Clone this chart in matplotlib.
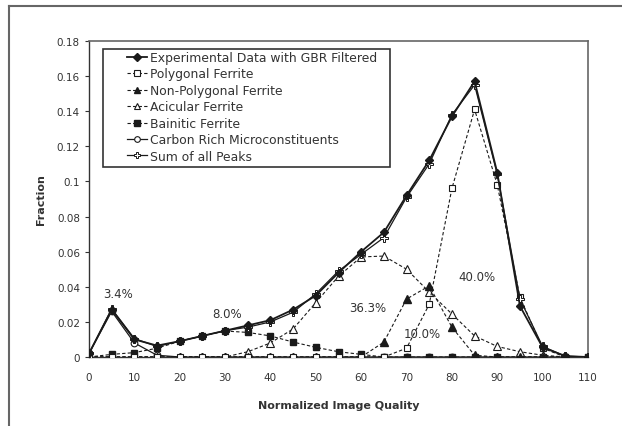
import matplotlib
matplotlib.use("Agg")
import matplotlib.pyplot as plt
from matplotlib.lines import Line2D
from matplotlib.patches import Rectangle

plt.rcParams['font.family'] = ['DejaVu Sans']

# Normalized image quality bins
iq = [0, 5, 10, 15, 20, 25, 30, 35, 40, 45, 50, 55, 60, 65, 70, 75, 80, 85, 90, 95, 100, 105, 110]

experimental = [0.002, 0.027, 0.010, 0.0065, 0.009, 0.012, 0.015, 0.018, 0.021, 0.027, 0.035, 0.048,
                0.060, 0.071, 0.092, 0.112, 0.137, 0.157, 0.105, 0.029, 0.0055, 0.0005, 0.0]
polygonal = [0.0, 0.0, 0.0, 0.0, 0.0, 0.0, 0.0, 0.0, 0.0, 0.0, 0.0, 0.0,
             0.0, 0.0, 0.005, 0.030, 0.096, 0.141, 0.098, 0.034, 0.005, 0.0, 0.0]
non_polygonal = [0.0, 0.0, 0.0, 0.0, 0.0, 0.0, 0.0, 0.0, 0.0, 0.0, 0.0, 0.0,
                 0.0, 0.0085, 0.033, 0.0405, 0.017, 0.001, 0.0, 0.0, 0.0, 0.0, 0.0]
acicular = [0.0, 0.0, 0.0, 0.0, 0.0, 0.0, 0.0, 0.003, 0.008, 0.016, 0.031, 0.046,
            0.057, 0.0575, 0.050, 0.037, 0.0245, 0.012, 0.006, 0.003, 0.001, 0.0, 0.0]
bainitic = [0.0, 0.0015, 0.0025, 0.005, 0.009, 0.012, 0.0148, 0.014, 0.012, 0.0085, 0.0055, 0.003,
            0.0015, 0.0, 0.0, 0.0, 0.0, 0.0, 0.0, 0.0, 0.0, 0.0, 0.0]
carbon_rich = [0.002, 0.026, 0.008, 0.001, 0.0, 0.0, 0.0, 0.0, 0.0, 0.0, 0.0, 0.0,
               0.0, 0.0, 0.0, 0.0, 0.0, 0.0, 0.0, 0.0, 0.0, 0.0, 0.0]
peak_sum = [0.002, 0.0275, 0.0105, 0.006, 0.009, 0.012, 0.015, 0.017, 0.020, 0.0255, 0.036, 0.049,
            0.0585, 0.068, 0.091, 0.110, 0.138, 0.155, 0.104, 0.033, 0.006, 0.0005, 0.0]

# Peak area labels: (text, x, y)
peak_labels = [("3.4%", 6.5, 0.036), ("8.0%", 30.5, 0.025), ("36.3%", 61.5, 0.028),
               ("10.0%", 73.5, 0.0135), ("40.0%", 85.5, 0.046)]

xticks = [0, 10, 20, 30, 40, 50, 60, 70, 80, 90, 100, 110]
yticks = [0, 0.02, 0.04, 0.06, 0.08, 0.1, 0.12, 0.14, 0.16, 0.18]
ytick_labels = ["0", "0.02", "0.04", "0.06", "0.08", "0.1", "0.12", "0.14", "0.16", "0.18"]

ink = '#1a1a1a'
txt_col = '#333333'
W, H = 622, 427
fig = plt.figure(figsize=(W / 100, H / 100), dpi=100)
x0, x1, y0, y1 = 89, 588, 42, 358
ax = fig.add_axes([x0 / W, 1 - y1 / H, (x1 - x0) / W, (y1 - y0) / H])

ms = 4.8
dash = (0, (3, 2))
ax.plot(iq, carbon_rich, color=ink, lw=0.9, ls='-', marker='o', ms=ms, mfc='white', mec=ink,
        mew=0.8, label='Carbon Rich Microconstituents', zorder=3)
ax.plot(iq, bainitic, color=ink, lw=0.8, ls=dash, marker='s', ms=ms, mfc=ink, mec=ink,
        label='Bainitic Ferrite', zorder=3)
ax.plot(iq, acicular, color=ink, lw=0.8, ls=dash, marker='^', ms=ms + 0.5, mfc='white', mec=ink,
        mew=0.8, label='Acicular Ferrite', zorder=3)
ax.plot(iq, non_polygonal, color=ink, lw=0.8, ls=dash, marker='^', ms=ms + 0.5, mfc=ink, mec=ink,
        label='Non-Polygonal Ferrite', zorder=3)
ax.plot(iq, polygonal, color=ink, lw=0.8, ls=dash, marker='s', ms=ms, mfc='white', mec=ink,
        mew=0.8, label='Polygonal Ferrite', zorder=3)
ax.plot(iq, peak_sum, color=ink, lw=0.9, ls='-', marker='P', ms=ms + 0.5, mfc='white', mec=ink,
        mew=0.7, label='Sum of all Peaks', zorder=4)
ax.plot(iq, experimental, color=ink, lw=1.3, ls='-', marker='D', ms=ms - 0.5, mfc=ink, mec=ink,
        label='Experimental Data with GBR Filtered', zorder=5)

for txt, xv, yv in peak_labels:
    ax.text(xv, yv, txt, fontsize=8.5, color=txt_col, ha='center', va='center', zorder=6)

ax.set_xlim(0, 110)
ax.set_ylim(0, 0.18)
ax.set_xticks(xticks)
ax.set_xticklabels([str(v) for v in xticks])
ax.set_yticks(yticks)
ax.set_yticklabels(ytick_labels)
ax.tick_params(axis='both', labelsize=7.5, colors=txt_col, direction='out', length=3, width=0.8)
ax.tick_params(axis='x', length=0, pad=11)
for side in ['left', 'bottom']:
    ax.spines[side].set_color('#333333')
    ax.spines[side].set_linewidth(1.0)
for side in ['top', 'right']:
    ax.spines[side].set_color('#666666')
    ax.spines[side].set_linewidth(1.2)

ax.set_xlabel('Normalized Image Quality', fontsize=8, fontweight='bold', color=txt_col, labelpad=13)
ax.set_ylabel('Fraction', fontsize=8, fontweight='bold', color=txt_col, labelpad=8)

# Legend frame and entries
lx0, lx1, ly0, ly1 = 103, 390, 50, 168
ax.add_patch(Rectangle(((lx0 - x0) / (x1 - x0), 1 - (ly1 - y0) / (y1 - y0)),
                       (lx1 - lx0) / (x1 - x0), (ly1 - ly0) / (y1 - y0),
                       transform=ax.transAxes, fill=True, facecolor='white',
                       edgecolor='#333333', lw=1.2, zorder=7))
order = ['Experimental Data with GBR Filtered', 'Polygonal Ferrite', 'Non-Polygonal Ferrite',
         'Acicular Ferrite', 'Bainitic Ferrite', 'Carbon Rich Microconstituents', 'Sum of all Peaks']
handles, labels = ax.get_legend_handles_labels()
hmap = dict(zip(labels, handles))
leg = ax.legend([hmap[k] for k in order], order, loc='upper left',
                bbox_to_anchor=((127 - x0) / (x1 - x0), 1 - (52 - y0) / (y1 - y0)), fontsize=8.9,
                frameon=False, handlelength=1.6, handletextpad=0.25, labelspacing=0.28,
                borderpad=0, borderaxespad=0, markerscale=0.85)
leg.set_zorder(8)
for t in leg.get_texts():
    t.set_color(txt_col)

# Outer frame of the figure
fig.add_artist(Line2D([9 / W, 9 / W], [0, 1 - 7 / H], color='#666666', lw=1.5))
fig.add_artist(Line2D([9 / W, 1], [1 - 7 / H, 1 - 7 / H], color='#666666', lw=1.5))

fig.savefig('out.png', dpi=100)
